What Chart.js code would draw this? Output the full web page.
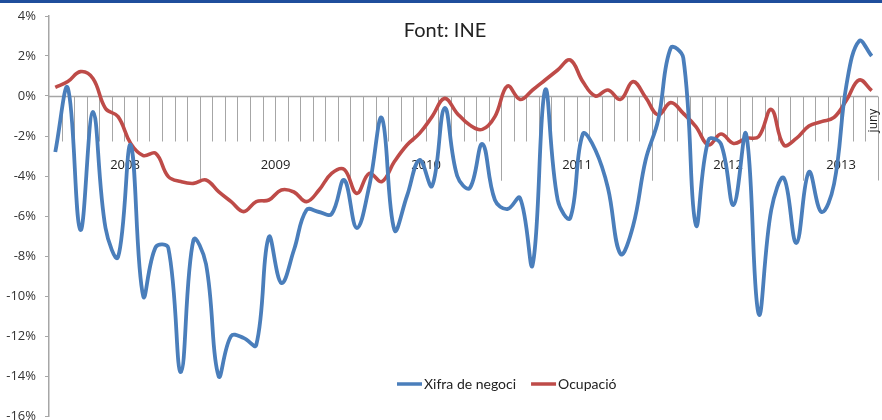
<!DOCTYPE html>
<html>
<head>
<meta charset="utf-8">
<script src="https://cdn.jsdelivr.net/npm/chart.js@4.4.0/dist/chart.umd.min.js"></script>
<style>
  html, body { margin: 0; padding: 0; background: #fff; overflow: hidden; }
  canvas { display: block; }
</style>
</head>
<body>
<canvas id="chart" width="882" height="420"></canvas>
<script>
// Years on the category axis and how many months each one covers (jan 2008 - juny 2013)
const years = ['2008', '2009', '2010', '2011', '2012', '2013'];
const monthsInYear = [12, 12, 12, 12, 12, 6];
const lastMonthLabel = 'juny';

// Year-on-year change, %
const xifraNegoci = [
  -2.8, 0.4, -6.7, -0.8, -6.6, -8.05, -2.45, -10.0, -7.55, -7.6, -13.8, -7.2,
  -8.4, -14.0, -12.0, -12.1, -12.45, -7.05, -9.35, -7.7, -5.7, -5.8, -5.9, -4.2,
  -6.6, -4.5, -1.1, -6.7, -5.0, -3.2, -4.5, -0.6, -4.0, -4.6, -2.4, -5.2,
  -5.65, -5.1, -8.45, 0.3, -5.2, -6.1, -1.9, -2.7, -4.6, -7.9, -6.5, -3.2,
  -1.2, 2.4, 1.9, -6.45, -2.2, -2.4, -5.45, -1.9, -10.9, -5.7, -4.1, -7.35,
  -3.8, -5.8, -4.4, 0.6, 2.75, 2.0
];
const ocupacio = [
  0.43, 0.72, 1.22, 0.88, -0.62, -1.03, -2.37, -2.98, -2.87, -4.03, -4.28, -4.37,
  -4.2, -4.78, -5.28, -5.78, -5.28, -5.2, -4.7, -4.8, -5.28, -4.7, -3.87, -3.67,
  -4.87, -3.87, -4.28, -3.28, -2.45, -1.87, -1.03, -0.12, -0.87, -1.45, -1.67, -1.03,
  0.5, -0.17, 0.3, 0.8, 1.3, 1.8, 0.72, 0.0, 0.3, -0.17, 0.72, -0.07,
  -0.95, -0.33, -0.87, -1.53, -2.45, -1.9, -2.37, -2.12, -2.03, -0.67, -2.45, -2.12,
  -1.5, -1.28, -1.07, -0.2, 0.8, 0.27
];

const yTicks = { min: -16, max: 4, step: 2 };

// one label per month: year + month number
const labels = [];
years.forEach((y, i) => {
  for (let m = 1; m <= monthsInYear[i]; m++) labels.push(y + '-' + m);
});

const BLUE = '#4a7ebb';
const RED = '#be4b48';
const AXIS = '#a6a6a6';

// Excel style two level category axis drawn along the 0% line
const categoryAxis = {
  id: 'categoryAxis',
  beforeDatasetsDraw(chart) {
    const ctx = chart.ctx;
    const x = chart.scales.x;
    const y = chart.scales.y;
    const y0 = Math.round(y.getPixelForValue(0)) + 0.5;
    const step = x.getPixelForValue(1) - x.getPixelForValue(0);
    const edge = i => Math.round(x.getPixelForValue(i) - step / 2) + 0.5;

    ctx.save();
    ctx.strokeStyle = AXIS;
    ctx.lineWidth = 1;

    // month ticks
    ctx.beginPath();
    for (let i = 1; i < labels.length; i++) {
      ctx.moveTo(edge(i), y0);
      ctx.lineTo(edge(i), y0 + 45);
    }
    ctx.stroke();

    // year ticks + labels
    ctx.fillStyle = '#222';
    ctx.font = '13px "Open Sans"';
    ctx.textAlign = 'center';
    ctx.textBaseline = 'middle';
    let start = 0;
    years.forEach((yr, i) => {
      const end = start + monthsInYear[i];
      const a = edge(start);
      const b = edge(end);
      ctx.beginPath();
      if (start > 0) { ctx.moveTo(a, y0); ctx.lineTo(a, y0 + 84); }
      ctx.moveTo(b, y0); ctx.lineTo(b, y0 + 84);
      ctx.stroke();
      ctx.fillText(yr, (a + b) / 2, y0 + 69);
      start = end;
    });

    // axis line
    ctx.beginPath();
    ctx.moveTo(chart.chartArea.left, y0);
    ctx.lineTo(chart.chartArea.right, y0);
    ctx.lineWidth = 1.5;
    ctx.stroke();

    // last month label, rotated
    const lx = x.getPixelForValue(labels.length - 1) + 2;
    ctx.save();
    ctx.translate(lx, y0 + 24);
    ctx.rotate(-Math.PI / 2);
    ctx.font = '12px "Open Sans"';
    ctx.fillText(lastMonthLabel, 0, 0);
    ctx.restore();
    ctx.restore();
  },
  afterDraw(chart) {
    const ctx = chart.ctx;
    ctx.save();
    // blue band on top
    ctx.fillStyle = '#1f4e9c';
    ctx.fillRect(0, 0, chart.width, 3);

    // title inside the plot
    ctx.fillStyle = '#222';
    ctx.font = '20px Lato';
    ctx.textAlign = 'center';
    ctx.textBaseline = 'middle';
    ctx.fillText('Font: INE', 445, 31);

    // legend inside the plot
    ctx.font = '14px Lato';
    ctx.textAlign = 'left';
    let lx = 397;
    const ly = 384;
    chart.data.datasets.forEach(ds => {
      ctx.strokeStyle = ds.borderColor;
      ctx.lineWidth = 3.5;
      ctx.beginPath();
      ctx.moveTo(lx, ly);
      ctx.lineTo(lx + 25, ly);
      ctx.stroke();
      ctx.fillStyle = '#222';
      ctx.fillText(ds.label, lx + 27, ly);
      lx += 27 + ctx.measureText(ds.label).width + 15;
    });
    ctx.restore();
  }
};

const ctx = document.getElementById('chart').getContext('2d');
const chart = new Chart(ctx, {
  type: 'line',
  data: {
    labels: labels,
    datasets: [
      { label: 'Xifra de negoci', data: xifraNegoci, borderColor: BLUE, borderWidth: 3.8, pointRadius: 0, tension: 0.4, fill: false },
      { label: 'Ocupació', data: ocupacio, borderColor: RED, borderWidth: 3.6, pointRadius: 0, tension: 0.4, fill: false }
    ]
  },
  options: {
    responsive: false,
    animation: false,
    layout: { padding: { top: 16, bottom: 4, right: 4, left: 0 } },
    plugins: {
      legend: { display: false },
      title: { display: false },
      tooltip: { enabled: false }
    },
    scales: {
      x: {
        type: 'category',
        offset: true,
        display: false
      },
      y: {
        min: yTicks.min,
        max: yTicks.max,
        afterFit: s => { s.width = 49; s.paddingTop = 0; s.paddingBottom = 0; },
        ticks: {
          stepSize: yTicks.step,
          padding: 9,
          color: '#333',
          font: { family: '"Open Sans"', size: 13 },
          callback: v => v + '%'
        },
        grid: { drawOnChartArea: false, tickLength: 4, color: AXIS },
        border: { color: AXIS, width: 1.5 }
      }
    }
  },
  plugins: [categoryAxis]
});
</script>
</body>
</html>
